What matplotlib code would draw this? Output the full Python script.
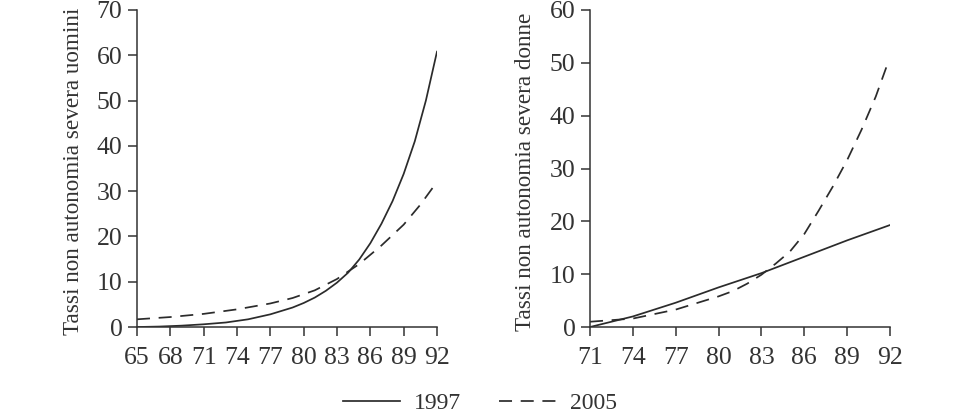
import matplotlib.pyplot as plt
from matplotlib.lines import Line2D

plt.rcParams['font.family'] = ['Liberation Serif', 'DejaVu Serif']

# Uomini (men)
men_x_1997 = [65, 67, 69, 71, 73, 75, 77, 79, 80, 81, 82, 83, 84, 85, 86, 87, 88, 89, 90, 91, 92]
men_y_1997 = [0.0, 0.1, 0.3, 0.6, 1.0, 1.7, 2.8, 4.3, 5.3, 6.5, 8.0, 9.8, 12.0, 14.9, 18.5,
              22.8, 27.8, 33.8, 41.0, 50.0, 60.8]
men_x_2005 = [65, 68, 71, 74, 77, 79, 81, 83, 85, 87, 89, 90.5, 91.6]
men_y_2005 = [1.7, 2.2, 2.9, 3.9, 5.2, 6.4, 8.1, 10.6, 13.9, 18.0, 22.6, 27.0, 30.7]

# Donne (women)
women_x_1997 = [71, 74, 77, 80, 83, 86, 89, 92]
women_y_1997 = [0.0, 2.0, 4.6, 7.5, 10.2, 13.3, 16.4, 19.3]
women_x_2005 = [71, 74, 77, 80, 81, 82, 83, 84, 85, 86, 87, 88, 89, 90, 91, 91.8]
women_y_2005 = [1.0, 1.6, 3.3, 5.8, 6.8, 8.2, 9.9, 12.0, 14.3, 17.6, 22.0, 26.6, 31.6, 37.3,
                43.6, 49.6]

men_xticks = [65, 68, 71, 74, 77, 80, 83, 86, 89, 92]
women_xticks = [71, 74, 77, 80, 83, 86, 89, 92]

ink = '#2b2b2b'
dash = (7.5, 5)

fig = plt.figure(figsize=(9.6, 4.13), dpi=100)
ax1 = fig.add_axes([0.1427, 0.2082, 0.3125, 0.7676])
ax2 = fig.add_axes([0.6146, 0.2082, 0.3125, 0.7676])

ax1.plot(men_x_1997, men_y_1997, color=ink, lw=1.25)
ax1.plot(men_x_2005, men_y_2005, color=ink, lw=1.25, linestyle=(0, dash))
ax2.plot(women_x_1997, women_y_1997, color=ink, lw=1.25)
ax2.plot(women_x_2005, women_y_2005, color=ink, lw=1.25, linestyle=(0, dash))

ax1.set_xlim(65, 92)
ax1.set_ylim(0, 70)
ax1.set_xticks(men_xticks)
ax1.set_yticks(range(0, 71, 10))
ax1.set_ylabel('Tassi non autonomia severa uomini', fontsize=16.7, color='#333333')

ax2.set_xlim(71, 92)
ax2.set_ylim(0, 60)
ax2.set_xticks(women_xticks)
ax2.set_yticks(range(0, 61, 10))
ax2.set_ylabel('Tassi non autonomia severa donne', fontsize=16.7, color='#333333')

for ax in (ax1, ax2):
    for s in ('top', 'right'):
        ax.spines[s].set_visible(False)
    for s in ('left', 'bottom'):
        ax.spines[s].set_color('#333333')
        ax.spines[s].set_linewidth(1.1)
    ax.tick_params(axis='both', direction='out', length=6.5, width=1.1,
                   colors='#333333', labelsize=18.5)
    ax.tick_params(axis='x', pad=8)
    ax.tick_params(axis='y', pad=4)
    ax.set_facecolor('white')

ax1.yaxis.set_label_coords(-0.178, 0.49)
ax2.yaxis.set_label_coords(-0.18, 0.49)

handles = [Line2D([], [], color=ink, lw=1.25),
           Line2D([], [], color=ink, lw=1.25, linestyle=(0, dash))]
fig.legend(handles, ['1997', '2005'], loc='lower center', ncol=2,
           frameon=False, fontsize=17, handlelength=2.4, columnspacing=1.6,
           handletextpad=0.6, bbox_to_anchor=(0.5, -0.055), labelcolor='#333333')

fig.savefig('out.png', dpi=100, facecolor='white')
